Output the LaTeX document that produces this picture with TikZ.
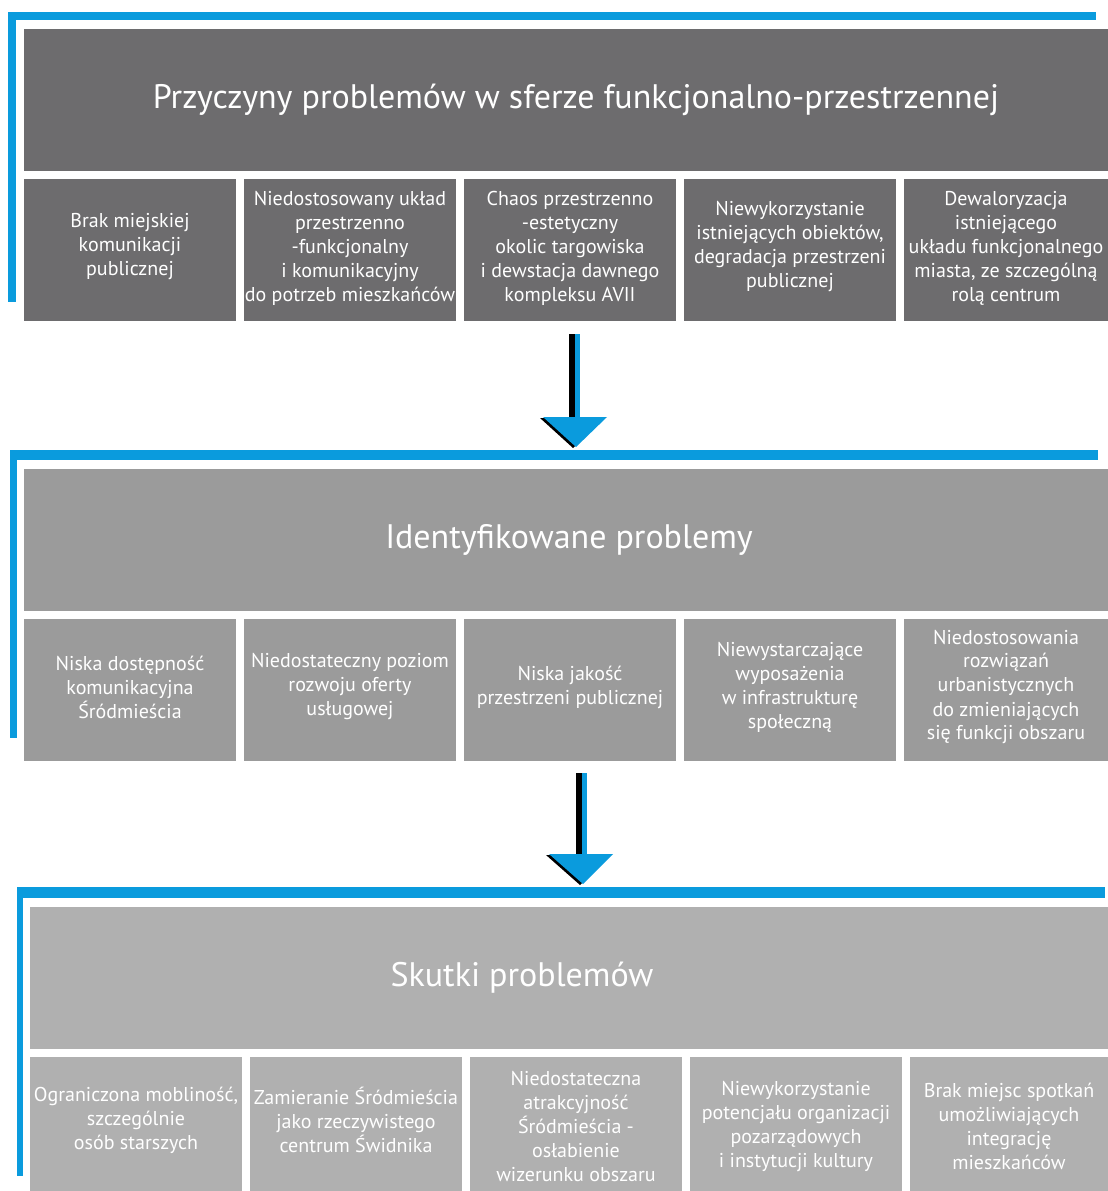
\documentclass[tikz,border=0pt]{standalone}
\usepackage{fontspec}
\setmainfont{PT Sans}
\usetikzlibrary{calc}
\definecolor{blu}{HTML}{0A9BDD}
\definecolor{gA}{HTML}{6D6C6E}
\definecolor{gB}{HTML}{9B9B9B}
\definecolor{gC}{HTML}{B0B0B0}
\tikzset{
  head/.style={inner sep=0pt, outer sep=0pt, anchor=north west, minimum height=142pt},
  htxt/.style={inner sep=0pt, text=white, font=\fontsize{34}{40}\selectfont},
  cell/.style={inner sep=0pt, outer sep=0pt, anchor=north west, minimum height=142pt, minimum width=212pt},
  lastcell/.style={cell, minimum width=204pt},
  ctxt/.style={inner sep=0pt, text=white, align=center, font=\fontsize{20}{24}\selectfont},
  bar/.style={fill=blu},
}
\begin{document}
\begin{tikzpicture}[x=1pt,y=-1pt]
\clip (0,0) rectangle (1108,1191);
\fill[white] (0,0) rectangle (1108,1191);

% ---------- Section 1 ----------
\fill[bar] (8,12) rectangle (1096,20);
\fill[bar] (8,12) rectangle (16,302);
\node[head, fill=gA, minimum width=1084pt] (t1) at (24,29) {};
\node[htxt] (t1t) at ($(t1.center)+(10,0)$) {Przyczyny problemów w sferze funkcjonalno-przestrzennej};
\node[cell, fill=gA] (c11) at (24,179) {};
\node[cell, fill=gA] (c12) at (244,179) {};
\node[cell, fill=gA] (c13) at (464,179) {};
\node[cell, fill=gA] (c14) at (684,179) {};
\node[lastcell, fill=gA] (c15) at (904,179) {};
\node[ctxt] (c11t) at ($(c11.center)+(0,-3)$) {Brak miejskiej\\komunikacji\\publicznej};
\node[ctxt] (c12t) at ($(c12.center)+(0,-2)$) {Niedostosowany układ\\przestrzenno\\-funkcjonalny\\i komunikacyjny\\do potrzeb mieszkańców};
\node[ctxt] (c13t) at ($(c13.center)+(0,-2)$) {Chaos przestrzenno\\-estetyczny\\okolic targowiska\\i dewstacja dawnego\\kompleksu AVII};
\node[ctxt] (c14t) at ($(c14.center)+(0,-3)$) {Niewykorzystanie\\istniejących obiektów,\\degradacja przestrzeni\\publicznej};
\node[ctxt] (c15t) at ($(c15.center)+(0,-2)$) {Dewaloryzacja\\istniejącego\\układu funkcjonalnego\\miasta, ze szczególną\\rolą centrum};

% ---------- Arrow 1 ----------
\coordinate (a1s) at (575,334);
\coordinate (a1t) at (576,447);
\fill[black] ($(a1s)+(-6,0)$) rectangle ($(a1t)+(-1,-30)$);
\fill[blu] ($(a1s)+(0,0)$) rectangle ($(a1t)+(4,-30)$);
\fill[black] ($(a1t)+(-36,-29)$) -- ($(a1t)+(28,-29)$) -- ($(a1t)+(-3,1)$) -- cycle;
\fill[blu] ($(a1t)+(-33,-30)$) -- ($(a1t)+(31,-30)$) -- (a1t) -- cycle;

% ---------- Section 2 ----------
\fill[bar] (10,450) rectangle (1098,460);
\fill[bar] (10,450) rectangle (17,738);
\node[head, fill=gB, minimum width=1084pt] (t2) at (24,469) {};
\node[htxt] (t2t) at ($(t2.center)+(3,0)$) {Identyfikowane problemy};
\node[cell, fill=gB] (c21) at (24,619) {};
\node[cell, fill=gB] (c22) at (244,619) {};
\node[cell, fill=gB] (c23) at (464,619) {};
\node[cell, fill=gB] (c24) at (684,619) {};
\node[lastcell, fill=gB] (c25) at (904,619) {};
\node[ctxt] (c21t) at ($(c21.center)+(0,-3)$) {Niska dostępność\\komunikacyjna\\Śródmieścia};
\node[ctxt] (c22t) at ($(c22.center)+(0,-3)$) {Niedostateczny poziom\\rozwoju oferty\\usługowej};
\node[ctxt] (c23t) at ($(c23.center)+(0,-3)$) {Niska jakość\\przestrzeni publicznej};
\node[ctxt] (c24t) at ($(c24.center)+(0,-3)$) {Niewystarczające\\wyposażenia\\w infrastrukturę\\społeczną};
\node[ctxt] (c25t) at ($(c25.center)+(0,-3)$) {Niedostosowania\\rozwiązań\\urbanistycznych\\do zmieniających\\się funkcji obszaru};

% ---------- Arrow 2 ----------
\coordinate (a2s) at (582,773);
\coordinate (a2t) at (583,884);
\fill[black] ($(a2s)+(-6,0)$) rectangle ($(a2t)+(-1,-30)$);
\fill[blu] ($(a2s)+(0,0)$) rectangle ($(a2t)+(4,-30)$);
\fill[black] ($(a2t)+(-37,-29)$) -- ($(a2t)+(27,-29)$) -- ($(a2t)+(-3,1)$) -- cycle;
\fill[blu] ($(a2t)+(-34,-30)$) -- ($(a2t)+(30,-30)$) -- (a2t) -- cycle;

% ---------- Section 3 ----------
\fill[bar] (17,887) rectangle (1105,898);
\fill[bar] (17,887) rectangle (23,1176);
\node[head, fill=gC, minimum width=1078pt] (t3) at (30,907) {};
\node[htxt] (t3t) at ($(t3.center)+(-47,0)$) {Skutki problemów};
\node[cell, fill=gC] (c31) at (30,1057) {};
\node[cell, fill=gC] (c32) at (250,1057) {};
\node[cell, fill=gC] (c33) at (470,1057) {};
\node[cell, fill=gC] (c34) at (690,1057) {};
\node[lastcell, fill=gC, minimum width=198pt] (c35) at (910,1057) {};
\node[ctxt] (c31t) at ($(c31.center)+(0,-8)$) {Ograniczona mobliność,\\szczególnie\\osób starszych};
\node[ctxt] (c32t) at ($(c32.center)+(0,-8)$) {Zamieranie Śródmieścia\\jako rzeczywistego\\centrum Świdnika};
\node[ctxt] (c33t) at ($(c33.center)+(0,-2)$) {Niedostateczna\\atrakcyjność\\Śródmieścia -\\osłabienie\\wizerunku obszaru};
\node[ctxt] (c34t) at ($(c34.center)+(0,-2)$) {Niewykorzystanie\\potencjału organizacji\\pozarządowych\\i instytucji kultury};
\node[ctxt] (c35t) at ($(c35.center)+(0,-2)$) {Brak miejsc spotkań\\umożliwiających\\integrację\\mieszkańców};
\end{tikzpicture}
\end{document}
